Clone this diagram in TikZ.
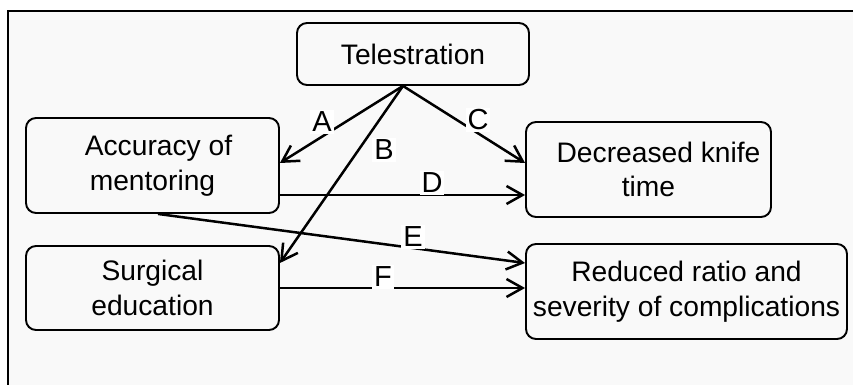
\documentclass[tikz,border=0pt]{standalone}
\usepackage{fontspec}
\setmainfont{Liberation Sans}
\usetikzlibrary{arrows.meta}
\definecolor{panelgray}{HTML}{F9F9F9}

\begin{document}
\begin{tikzpicture}[x=0.5pt, y=-0.5pt,
  box/.style={draw, line width=0.95pt, rounded corners=5pt, align=center,
    inner sep=0pt, font=\fontsize{14.1}{17.3}\selectfont},
  arr/.style={line width=1.25pt, -{Straight Barb[length=8pt, width=9pt, line width=1.25pt]}},
  lbl/.style={fill=white, inner sep=1pt, font=\fontsize{14.5}{16}\selectfont}]

\useasboundingbox (0,0) rectangle (853,385);

% frame section
\fill[panelgray] (8,11) rectangle (853,385);
\draw[line width=1.4pt] (8,385) -- (8,11) -- (853,11);

% box section
\node[box, minimum width=116pt, minimum height=31pt] (tele) at (413,54) {Telestration};
\node[box, minimum width=126.5pt, minimum height=47.5pt] (acc) at (152.5,165.5) {\hspace*{6pt}Accuracy of\\mentoring};
\node[box, minimum width=122.5pt, minimum height=47.5pt] (dec) at (648.5,169.5) {\hspace*{10pt}Decreased knife\\time};
\node[box, minimum width=126.5pt, minimum height=42pt] (sur) at (152.5,288) {Surgical\\education};
\node[box, minimum width=160.5pt, minimum height=47.5pt] (red) at (686.5,291.5) {Reduced ratio and\\severity of complications};

% anchor points
\coordinate (src) at ([xshift=-5pt]tele.south);
\coordinate (accD) at ([yshift=-14.75pt]acc.east);
\coordinate (accE) at ([xshift=2.75pt]acc.south);

% arrow section
\draw[arr] (src) -- ([yshift=1.25pt]acc.east);
\draw[arr] (src) -- ([yshift=12.5pt]sur.east);
\draw[arr] (src) -- ([yshift=3.25pt]dec.west);
\draw[arr] (accD) -- (accD -| dec.west);
\draw[arr] (accE) -- ([yshift=14.25pt]red.west);
\draw[arr] (sur.east) -- (sur.east -| red.west);

% label section
\node[lbl] (labA) at (322,122) {A};
\node[lbl] (labB) at (384,150) {B};
\node[lbl] (labC) at (478,120) {C};
\node[lbl] (labD) at (432,183) {D};
\node[lbl] (labE) at (413,237) {E};
\node[lbl] (labF) at (383,277) {F};

\end{tikzpicture}
\end{document}
